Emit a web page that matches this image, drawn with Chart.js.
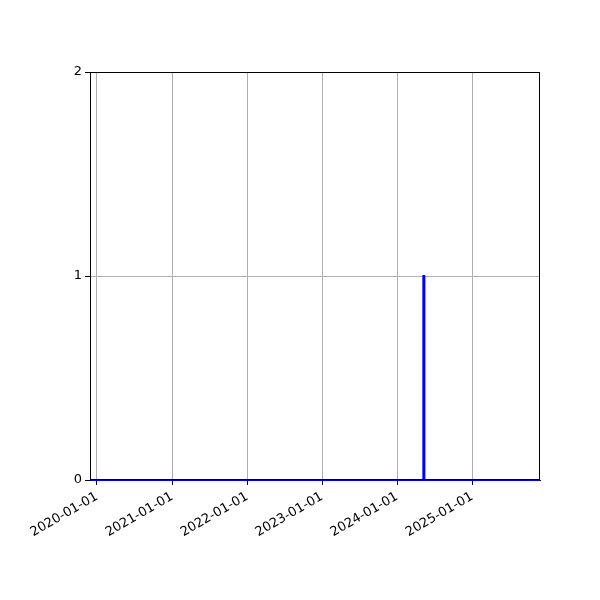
<!DOCTYPE html>
<html>
<head>
<meta charset="utf-8">
<script src="https://cdn.jsdelivr.net/npm/chart.js@4"></script>
<style>
  html, body { margin: 0; padding: 0; background: #fff; }
  #wrap { width: 600px; height: 600px; }
</style>
</head>
<body>
<div id="wrap"><canvas id="graph" width="600" height="600"></canvas></div>
<script>
// data
const dates = ['2019-11-28', '2024-05-07', '2024-05-08', '2024-05-12', '2024-05-13', '2025-11-27']
const values = [0, 0, 1, 1, 0, 0]
const tickDates = ['2020-01-01', '2021-01-01', '2022-01-01', '2023-01-01', '2024-01-01', '2025-01-01']
const yTicks = [0, 1, 2]

const ts = d => Date.parse(d + 'T00:00:00Z')
const fmt = v => new Date(v).toISOString().slice(0, 10)

// black box round the plot area
const frame = {
    id: 'frame',
    afterDraw(chart) {
        const a = chart.chartArea
        const c = chart.ctx
        c.save()
        c.strokeStyle = '#000'
        c.lineWidth = 1
        c.strokeRect(Math.round(a.left) + 0.5, Math.round(a.top) + 0.5,
            Math.round(a.right - a.left) - 1, Math.round(a.bottom - a.top) - 1)
        c.restore()
    }
}

Chart.defaults.font.family = 'DejaVu Sans'
Chart.defaults.color = '#000'

let ctx = document.getElementById('graph').getContext('2d')
new Chart(ctx, {
    type: 'line',
    data: {
        datasets: [{
            data: dates.map((d, i) => ({ x: ts(d), y: values[i] })),
            borderColor: '#0000ff',
            borderWidth: 2,
            pointRadius: 0,
            tension: 0,
            clip: 4
        }]
    },
    plugins: [frame],
    options: {
        responsive: false,
        animation: false,
        layout: { padding: { left: 0, right: 60, top: 72, bottom: 0 } },
        plugins: { legend: { display: false }, tooltip: { enabled: false } },
        scales: {
            x: {
                type: 'linear',
                min: ts(dates[0]),
                max: ts(dates[dates.length - 1]),
                afterBuildTicks: s => { s.ticks = tickDates.map(d => ({ value: ts(d) })) },
                afterFit: s => { s.height = 120 },
                ticks: {
                    callback: v => fmt(v),
                    minRotation: 30,
                    maxRotation: 30,
                    autoSkip: false,
                    font: { size: 13 },
                    padding: 4
                },
                grid: { color: '#b0b0b0', tickColor: '#000', tickLength: 5 },
                border: { color: '#000' }
            },
            y: {
                min: 0,
                max: 2,
                afterBuildTicks: s => { s.ticks = yTicks.map(v => ({ value: v })) },
                afterFit: s => { s.width = 90 },
                ticks: { font: { size: 13 }, padding: 3 },
                grid: { color: '#b0b0b0', tickColor: '#000', tickLength: 5 },
                border: { color: '#000' }
            }
        }
    }
})
</script>
</body>
</html>
